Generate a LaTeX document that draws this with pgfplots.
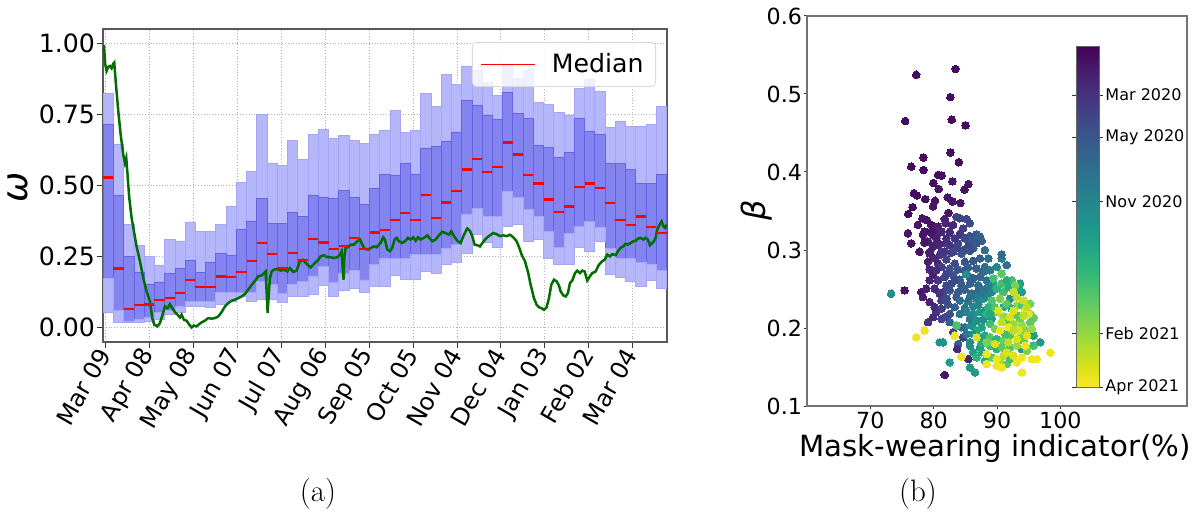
\documentclass[border=0pt]{standalone}
\usepackage{fontspec}
\setsansfont{DejaVu Sans}
\usepackage{pgfplots}
\pgfplotsset{compat=1.18}
\usepackage{pgfplotstable}

\definecolor{lightbox}{RGB}{182,182,250}
\definecolor{darkbox}{RGB}{132,132,240}
\definecolor{lightedge}{RGB}{165,165,246}
\definecolor{darkedge}{RGB}{100,100,228}
\definecolor{mgreen}{RGB}{0,110,0}

\pgfplotstableread{
c ob ib med it ot
1.65 0.053 0.173 0.528 0.716 0.825
8.65 0.018 0.062 0.208 0.464 0.646
15.65 0.018 0.023 0.067 0.252 0.362
22.65 0.020 0.029 0.079 0.196 0.290
29.65 0.023 0.035 0.082 0.153 0.250
36.65 0.029 0.053 0.097 0.158 0.219
43.65 0.047 0.062 0.104 0.191 0.311
50.65 0.053 0.076 0.123 0.208 0.305
57.65 0.076 0.094 0.167 0.238 0.372
64.65 0.076 0.094 0.143 0.196 0.339
71.65 0.070 0.094 0.143 0.229 0.337
78.65 0.082 0.123 0.180 0.262 0.363
85.65 0.094 0.123 0.178 0.255 0.428
92.65 0.112 0.123 0.197 0.346 0.510
99.65 0.094 0.126 0.235 0.374 0.549
106.65 0.100 0.163 0.297 0.454 0.749
113.65 0.100 0.151 0.259 0.366 0.577
120.65 0.088 0.121 0.210 0.367 0.569
127.65 0.112 0.151 0.262 0.405 0.658
134.65 0.112 0.164 0.239 0.391 0.593
141.65 0.117 0.182 0.311 0.464 0.680
148.65 0.149 0.217 0.300 0.459 0.696
155.65 0.109 0.161 0.276 0.455 0.666
162.65 0.133 0.191 0.286 0.482 0.675
169.65 0.138 0.203 0.315 0.458 0.657
176.65 0.126 0.168 0.276 0.434 0.649
183.65 0.147 0.223 0.335 0.491 0.681
190.65 0.147 0.243 0.344 0.538 0.695
197.65 0.184 0.245 0.379 0.536 0.764
204.65 0.169 0.245 0.404 0.576 0.685
211.65 0.169 0.257 0.379 0.539 0.694
218.65 0.198 0.257 0.468 0.630 0.824
225.65 0.192 0.257 0.385 0.638 0.779
232.65 0.222 0.278 0.440 0.656 0.891
239.65 0.231 0.292 0.481 0.688 0.856
246.65 0.260 0.400 0.556 0.799 0.920
253.65 0.327 0.420 0.594 0.780 0.905
260.65 0.300 0.392 0.547 0.748 0.862
267.65 0.283 0.392 0.565 0.732 0.815
274.65 0.357 0.480 0.651 0.826 0.926
281.65 0.363 0.457 0.609 0.752 0.877
288.65 0.304 0.415 0.536 0.735 0.903
295.65 0.310 0.392 0.507 0.642 0.793
302.65 0.245 0.339 0.451 0.633 0.785
309.65 0.222 0.281 0.408 0.597 0.756
316.65 0.224 0.330 0.426 0.615 0.748
323.65 0.283 0.357 0.494 0.736 0.842
330.65 0.269 0.374 0.507 0.691 0.873
337.65 0.304 0.351 0.492 0.680 0.829
344.65 0.187 0.278 0.439 0.579 0.703
351.65 0.177 0.245 0.378 0.576 0.727
358.65 0.163 0.245 0.362 0.556 0.709
365.65 0.146 0.228 0.391 0.508 0.709
372.65 0.165 0.224 0.353 0.506 0.715
379.65 0.138 0.201 0.333 0.539 0.779
}\boxdata

\pgfplotstableread{
d w
-1.37 0.994
-0.46 0.926
0.46 0.903
1.59 0.917
2.73 0.920
3.87 0.912
5.01 0.928
5.70 0.932
6.84 0.856
8.43 0.762
10.03 0.680
11.85 0.609
12.99 0.580
13.90 0.597
14.58 0.550
15.95 0.457
17.54 0.386
19.14 0.339
20.96 0.286
23.24 0.234
25.52 0.175
27.80 0.128
30.08 0.093
31.67 0.034
33.04 0.011
35.09 0.005
36.91 0.016
38.73 0.046
40.33 0.075
42.15 0.069
43.75 0.083
45.34 0.069
47.16 0.055
48.99 0.046
50.58 0.036
51.72 0.046
53.32 0.028
55.14 0.025
56.96 0.011
58.56 0.001
60.15 0.008
61.98 0.005
63.80 0.013
65.39 0.019
67.67 0.025
69.95 0.034
72.23 0.032
74.51 0.034
76.79 0.040
79.07 0.055
81.35 0.075
83.63 0.087
85.91 0.095
88.18 0.099
90.46 0.104
92.74 0.110
95.02 0.119
97.30 0.134
99.58 0.151
101.86 0.165
104.14 0.181
106.42 0.184
108.02 0.192
109.16 0.198
109.84 0.128
110.52 0.052
111.44 0.128
112.12 0.175
113.26 0.198
114.85 0.204
117.13 0.207
119.41 0.201
121.69 0.204
123.97 0.198
125.80 0.210
128.05 0.196
130.33 0.201
132.60 0.234
134.43 0.239
136.02 0.231
138.30 0.219
139.90 0.212
141.72 0.222
143.54 0.231
145.14 0.239
146.73 0.251
149.01 0.255
151.29 0.248
153.57 0.248
155.85 0.245
158.13 0.248
159.95 0.257
161.09 0.269
162.00 0.198
162.46 0.169
162.91 0.245
163.82 0.281
165.42 0.283
167.24 0.292
169.52 0.292
171.80 0.304
173.62 0.310
175.22 0.292
176.81 0.278
179.09 0.275
181.37 0.281
183.19 0.286
185.01 0.283
186.61 0.292
187.75 0.298
189.57 0.318
190.71 0.310
192.30 0.275
194.13 0.269
195.72 0.281
197.32 0.310
198.68 0.316
200.27 0.304
202.55 0.298
204.83 0.306
206.43 0.316
208.25 0.310
210.07 0.318
211.67 0.306
213.26 0.318
215.08 0.310
217.36 0.316
219.64 0.325
221.46 0.313
223.06 0.304
225.34 0.310
227.62 0.325
229.90 0.337
232.18 0.333
234.45 0.327
236.05 0.339
237.87 0.322
240.15 0.306
242.43 0.298
244.71 0.327
246.98 0.349
248.81 0.341
250.40 0.322
252.00 0.292
253.82 0.290
255.64 0.286
257.92 0.302
260.20 0.316
262.47 0.325
264.75 0.333
267.03 0.329
269.31 0.322
271.59 0.325
273.87 0.322
276.15 0.327
278.43 0.318
280.70 0.304
282.53 0.281
284.12 0.257
286.40 0.234
288.68 0.192
290.28 0.151
292.55 0.104
294.38 0.081
295.97 0.072
297.79 0.069
299.39 0.063
301.21 0.072
302.81 0.104
304.40 0.151
306.22 0.169
308.05 0.163
309.64 0.149
310.78 0.128
312.60 0.114
314.20 0.110
315.79 0.122
317.16 0.157
318.75 0.166
320.58 0.192
322.17 0.201
324.00 0.192
325.59 0.201
327.19 0.198
329.01 0.166
330.83 0.181
332.42 0.192
334.70 0.198
336.98 0.222
339.26 0.234
340.86 0.239
342.68 0.257
344.50 0.251
346.09 0.259
348.37 0.255
349.97 0.269
351.79 0.281
353.61 0.286
355.21 0.295
356.80 0.292
358.62 0.298
360.45 0.304
362.04 0.306
363.64 0.313
365.46 0.316
367.28 0.310
368.87 0.316
370.47 0.310
371.84 0.290
373.43 0.298
374.57 0.304
375.71 0.316
376.85 0.345
378.67 0.365
379.81 0.374
380.95 0.357
382.09 0.351
383.23 0.362
}\greendata

\pgfplotstableread{
x y c
77.25 0.5247 0.03
83.44 0.5321 0.03
82.64 0.4959 0.03
75.50 0.4654 0.03
82.86 0.4671 0.03
85.03 0.4598 0.03
82.64 0.4250 0.03
83.97 0.4125 0.03
78.36 0.4185 0.03
76.45 0.4069 0.03
78.41 0.4027 0.03
80.69 0.3962 0.03
81.27 0.3953 0.03
79.95 0.3858 0.03
82.96 0.3880 0.05
85.50 0.3846 0.05
80.79 0.3781 0.05
84.87 0.3773 0.05
76.88 0.3729 0.03
77.35 0.3699 0.03
78.68 0.3652 0.03
80.21 0.3631 0.05
82.22 0.3674 0.05
82.96 0.3622 0.05
84.23 0.3601 0.05
79.89 0.3558 0.05
76.67 0.3549 0.03
75.98 0.3463 0.03
82.33 0.3476 0.05
78.20 0.3407 0.05
78.84 0.3386 0.05
81.74 0.3399 0.08
83.60 0.3425 0.20
84.13 0.3407 0.20
85.19 0.3399 0.22
77.51 0.3321 0.05
79.63 0.3321 0.05
80.69 0.3300 0.08
81.90 0.3343 0.10
83.07 0.3321 0.12
84.66 0.3278 0.18
85.71 0.3343 0.22
75.92 0.3214 0.03
78.57 0.3235 0.05
79.89 0.3192 0.08
80.69 0.3214 0.10
82.54 0.3235 0.15
84.13 0.3192 0.20
85.71 0.3171 0.25
86.77 0.3201 0.28
76.45 0.3085 0.05
79.10 0.3107 0.08
80.42 0.3063 0.10
82.01 0.3085 0.15
83.70 0.3063 0.20
85.71 0.3107 0.25
87.57 0.3115 0.30
88.10 0.3000 0.32
77.78 0.2977 0.05
79.37 0.2977 0.08
81.22 0.2977 0.15
83.07 0.2977 0.20
84.66 0.2999 0.22
86.24 0.3020 0.28
75.92 0.3214 0.05
78.31 0.3193 0.05
79.63 0.3223 0.05
81.22 0.3236 0.10
82.54 0.3223 0.12
84.13 0.3205 0.15
85.71 0.3180 0.25
87.30 0.3171 0.30
76.45 0.3085 0.05
78.57 0.3094 0.05
79.89 0.3042 0.08
80.95 0.3076 0.10
82.54 0.3064 0.15
83.86 0.3085 0.20
85.45 0.3051 0.22
86.77 0.3085 0.28
77.78 0.2977 0.05
79.36 0.2956 0.08
80.95 0.2935 0.15
82.80 0.2965 0.20
84.39 0.2956 0.25
85.71 0.2990 0.25
79.10 0.2849 0.08
80.69 0.2827 0.12
82.01 0.2879 0.20
83.33 0.2827 0.22
84.92 0.2849 0.25
86.24 0.2861 0.28
87.30 0.2892 0.30
79.36 0.2750 0.10
81.22 0.2784 0.20
82.54 0.2763 0.25
83.86 0.2750 0.25
85.45 0.2775 0.30
86.77 0.2763 0.30
79.89 0.2677 0.08
80.69 0.2612 0.15
81.74 0.2655 0.20
83.07 0.2677 0.25
84.13 0.2621 0.28
86.24 0.2634 0.30
82.80 0.2569 0.22
84.39 0.2548 0.28
85.71 0.2569 0.30
75.40 0.2483 0.05
78.04 0.2462 0.05
80.16 0.2505 0.12
81.48 0.2462 0.20
82.54 0.2483 0.25
83.86 0.2462 0.28
84.92 0.2492 0.30
78.31 0.2397 0.08
79.36 0.2332 0.10
81.22 0.2354 0.18
82.27 0.2302 0.25
83.33 0.2268 0.30
80.42 0.2204 0.15
82.54 0.2182 0.25
79.10 0.2075 0.15
81.22 0.2117 0.20
82.54 0.2075 0.30
83.07 0.1946 0.20
84.66 0.1881 0.20
83.86 0.1795 0.30
83.70 0.1731 0.12
85.45 0.1602 0.10
81.74 0.1399 0.05
80.42 0.3150 0.08
82.01 0.3150 0.12
83.33 0.3150 0.15
80.16 0.2892 0.10
81.74 0.2977 0.15
83.60 0.3021 0.20
84.92 0.3150 0.22
86.24 0.3128 0.28
80.42 0.2741 0.12
82.01 0.2698 0.20
83.33 0.2612 0.22
84.92 0.2741 0.28
85.71 0.2655 0.30
79.36 0.2612 0.10
78.83 0.2505 0.08
80.95 0.2440 0.15
82.01 0.2548 0.22
83.60 0.2397 0.28
82.01 0.2376 0.22
80.16 0.2268 0.12
81.22 0.2247 0.18
81.74 0.2139 0.22
79.89 0.2139 0.12
88.62 0.2892 0.35
90.74 0.2892 0.42
91.53 0.2806 0.38
89.95 0.2784 0.45
88.09 0.2784 0.35
88.09 0.2999 0.35
90.74 0.2943 0.35
85.18 0.2689 0.50
87.30 0.2655 0.32
88.36 0.2612 0.35
93.65 0.2569 0.55
87.04 0.2548 0.35
73.28 0.2440 0.50
85.98 0.2440 0.33
87.04 0.2474 0.35
88.09 0.2492 0.40
89.15 0.2462 0.45
89.42 0.2548 0.55
93.92 0.2462 0.55
84.13 0.2354 0.35
85.45 0.2345 0.38
86.77 0.2376 0.42
87.83 0.2376 0.50
92.06 0.2376 0.50
84.92 0.2259 0.40
86.24 0.2277 0.45
84.13 0.2182 0.40
85.18 0.2204 0.45
86.24 0.2182 0.50
87.30 0.2204 0.55
89.15 0.2117 0.55
87.83 0.2105 0.50
84.92 0.2010 0.45
85.98 0.2032 0.50
87.56 0.2010 0.55
86.77 0.1967 0.60
80.95 0.1817 0.50
81.48 0.1817 0.52
95.77 0.1903 0.55
96.82 0.1817 0.55
85.71 0.1817 0.50
88.09 0.1903 0.60
85.71 0.1774 0.50
87.30 0.1752 0.55
93.92 0.1731 0.55
86.24 0.1688 0.55
82.54 0.1559 0.55
85.71 0.1494 0.55
86.51 0.1430 0.55
88.09 0.1580 0.60
87.83 0.2720 0.35
88.89 0.2741 0.40
88.62 0.2548 0.42
87.83 0.2440 0.40
88.62 0.2397 0.45
85.71 0.2397 0.35
87.04 0.2302 0.45
88.09 0.2225 0.50
85.71 0.2117 0.42
86.77 0.2096 0.50
84.39 0.2010 0.35
85.18 0.1924 0.40
86.24 0.1924 0.50
87.30 0.1881 0.55
89.42 0.2634 0.70
90.74 0.2698 0.75
92.33 0.2612 0.70
91.00 0.2462 0.70
91.80 0.2526 0.62
93.39 0.2526 0.60
89.15 0.2354 0.72
90.47 0.2376 0.80
93.12 0.2290 0.85
95.24 0.2311 0.80
88.62 0.2268 0.65
91.00 0.2268 0.62
88.36 0.2182 0.65
89.95 0.2204 0.78
93.65 0.2117 0.78
91.80 0.2096 0.72
91.00 0.2148 0.85
93.12 0.2160 0.75
95.77 0.2130 0.75
83.60 0.2032 0.72
88.89 0.2053 0.70
95.24 0.2075 0.75
94.71 0.1967 0.82
92.59 0.2053 0.85
93.92 0.2032 0.85
88.89 0.1881 0.72
89.95 0.1860 0.65
91.00 0.1838 0.78
92.06 0.1903 0.72
94.18 0.1838 0.75
87.56 0.1804 0.62
88.89 0.1774 0.70
89.95 0.1731 0.65
92.06 0.1752 0.72
91.00 0.1645 0.90
94.71 0.1709 0.80
86.77 0.1623 0.65
91.53 0.1537 0.75
90.47 0.1559 0.85
89.95 0.2505 0.65
90.74 0.2569 0.70
91.53 0.2612 0.62
92.86 0.2548 0.80
91.53 0.2311 0.75
92.33 0.2247 0.60
93.92 0.2290 0.72
89.68 0.2268 0.72
88.89 0.2182 0.60
95.24 0.2182 0.80
89.68 0.1989 0.80
91.27 0.1924 0.70
93.92 0.1903 0.78
95.50 0.1989 0.85
90.74 0.1752 0.75
93.12 0.1774 0.85
95.77 0.1774 0.70
89.15 0.1623 0.75
87.56 0.1688 0.60
92.06 0.1602 0.70
88.36 0.1817 0.80
92.59 0.2462 0.92
94.18 0.2354 0.92
90.21 0.2225 0.95
92.59 0.2225 0.95
94.44 0.2225 0.98
94.97 0.2182 0.98
78.57 0.1967 0.98
77.25 0.1881 0.98
90.47 0.1967 0.98
91.80 0.2010 0.98
93.39 0.1967 0.95
83.33 0.1903 0.98
86.77 0.1881 0.95
93.12 0.1860 0.95
94.71 0.1903 0.95
84.39 0.1632 0.98
88.36 0.1666 0.98
89.95 0.1602 0.98
92.59 0.1645 0.95
96.30 0.1602 0.98
98.41 0.1683 0.98
95.50 0.1602 0.98
93.12 0.1559 0.98
88.36 0.1537 0.98
89.95 0.1516 0.98
93.92 0.1430 0.98
93.12 0.2397 0.90
94.71 0.2268 0.90
90.74 0.2075 0.90
92.06 0.2139 0.95
94.18 0.2160 0.90
92.59 0.1967 0.90
89.68 0.1795 0.95
91.80 0.1817 0.90
94.44 0.1774 0.98
91.53 0.1688 0.95
93.92 0.1623 0.98
90.74 0.1494 0.98
}\scatdata

\begin{document}
\begin{tikzpicture}
\useasboundingbox (0,0) rectangle (598.5pt,260pt);
% ---------- panel (a): boxes ----------
\begin{axis}[
  at={(51.5pt,89pt)}, anchor=south west,
  scale only axis, width=282pt, height=156.5pt,
  xmin=-2, xmax=383.5, ymin=-0.05, ymax=1.05,
  xtick={0,30,60,90,120,150,180,210,240,270,300,330,360},
  xticklabels={Mar 09,Apr 08,May 08,Jun 07,Jul 07,Aug 06,Sep 05,Oct 05,Nov 04,Dec 04,Jan 03,Feb 02,Mar 04},
  ytick={0,0.25,0.5,0.75,1},
  yticklabels={0.00,0.25,0.50,0.75,1.00},
  yticklabel style={font=\sffamily\fontsize{12.6}{14}\selectfont, inner xsep=0.8pt},
  xticklabel style={font=\sffamily\fontsize{12}{14}\selectfont, rotate=60, anchor=east, inner sep=1.5pt},
  tick pos=left, tick align=outside, major tick length=3pt,
  tick style={black!80, line width=0.5pt},
  grid=major, grid style={densely dotted, gray!60, line width=0.5pt},
  axis line style={black!65, line width=0.6pt},
  ylabel={\itshape ω},
  ylabel style={font=\sffamily\fontsize{18}{20}\selectfont, at={(axis description cs:-0.15,0.495)}, anchor=center},
  ybar stacked, bar width=7,
]
\addplot[draw=none, fill=none] table[x=c, y=ob]{\boxdata};
\addplot[fill=lightbox, draw=lightedge, line width=0.4pt] table[x=c, y expr=\thisrow{ib}-\thisrow{ob}]{\boxdata};
\addplot[fill=darkbox, draw=darkedge, line width=0.4pt] table[x=c, y expr=\thisrow{it}-\thisrow{ib}]{\boxdata};
\addplot[fill=lightbox, draw=lightedge, line width=0.4pt] table[x=c, y expr=\thisrow{ot}-\thisrow{it}]{\boxdata};
\end{axis}
% ---------- panel (a): line, medians, legend ----------
\begin{axis}[
  at={(51.5pt,89pt)}, anchor=south west,
  scale only axis, width=282pt, height=156.5pt,
  xmin=-2, xmax=383.5, ymin=-0.05, ymax=1.05,
  hide axis,
  legend style={at={(1,1)}, anchor=north east, xshift=-5.5pt, yshift=-6.5pt,
    draw=black!15, fill=white, fill opacity=0.8, text opacity=1, draw opacity=1,
    rounded corners=2pt, font=\sffamily\fontsize{12.6}{15}\selectfont,
    inner xsep=4pt, inner ysep=3.5pt},
]
\addplot[mgreen, line width=1.25pt, forget plot] table[x=d, y=w]{\greendata};
\addplot[red, only marks, mark=-, mark size=2.56pt, mark options={line width=1.1pt},
  legend image code/.code={\draw[red, line width=0.8pt] (0pt,0pt) -- (27pt,0pt);}]
  table[x=c, y=med]{\boxdata};
\addlegendentry{\hspace{6pt}Median}
\end{axis}
% ---------- panel (b) ----------
\begin{axis}[
  at={(403.5pt,57pt)}, anchor=south west,
  scale only axis, width=190pt, height=195pt,
  xmin=60, xmax=120, ymin=0.1, ymax=0.6,
  xtick={70,80,90,100}, xticklabels={70,80,90,100},
  ytick={0.1,0.2,0.3,0.4,0.5,0.6}, yticklabels={0.1,0.2,0.3,0.4,0.5,0.6},
  ticklabel style={font=\sffamily\fontsize{11.1}{13}\selectfont},
  yticklabel style={inner xsep=0.8pt},
  xticklabel style={inner ysep=1.5pt},
  tick pos=left, tick align=outside, major tick length=1.5pt,
  tick style={black!80, line width=0.5pt},
  axis line style={black!55, line width=0.6pt},
  xlabel={Mask-wearing indicator(\%)},
  xlabel style={font=\sffamily\fontsize{14.6}{17}\selectfont, at={(axis description cs:0.495,-0.11)}, anchor=center},
  ylabel={\itshape β},
  ylabel style={font=\sffamily\fontsize{16}{18}\selectfont, at={(axis description cs:-0.134,0.503)}, anchor=center},
  colormap/viridis,
  point meta min=0, point meta max=1,
  colorbar,
  colorbar style={
    at={(parent axis.north east)}, anchor=north east,
    xshift=-52.5pt, yshift=-15pt,
    scale only axis, width=11.5pt, height=170.5pt,
    y dir=reverse,
    ytick={0.144,0.267,0.457,0.842,1},
    yticklabels={Mar 2020,May 2020,Nov 2020,Feb 2021,Apr 2021},
    yticklabel style={font=\sffamily\fontsize{8}{10}\selectfont, inner xsep=1pt},
    tick align=outside, major tick length=2pt,
    axis line style={black!60, line width=0.5pt},
  },
]
\addplot[scatter, only marks, mark=*, mark size=1.9pt, scatter src=explicit,
  scatter/use mapped color={draw=mapped color, fill=mapped color},
  mark options={line width=0pt}]
  table[x=x, y=y, meta=c]{\scatdata};
\end{axis}
\node at (159pt,13pt) {\fontsize{15.5}{18}\selectfont (a)};
\node at (459pt,13pt) {\fontsize{15.5}{18}\selectfont (b)};
\end{tikzpicture}
\end{document}
